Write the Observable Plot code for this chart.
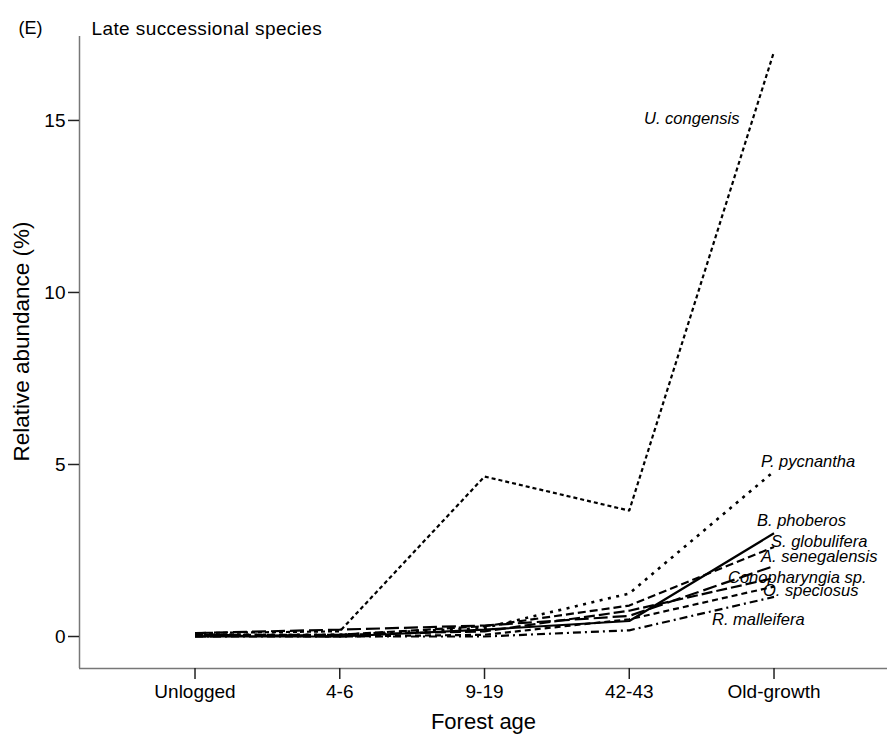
<!DOCTYPE html>
<html>
<head>
<meta charset="utf-8">
<script src="https://cdn.jsdelivr.net/npm/d3@7"></script>
<script src="https://cdn.jsdelivr.net/npm/@observablehq/plot@0.6"></script>
<style>
  html, body { margin: 0; padding: 0; background: #fff; }
  #chart svg { display: block; }
</style>
</head>
<body>
<div id="chart"></div>
<script>
// ---- data ----
const categories = ["Unlogged", "4-6", "9-19", "42-43", "Old-growth"];
const species = ["U. congensis", "P. pycnantha", "B. phoberos", "S. globulifera",
                 "A. senegalensis", "Conopharyngia sp.", "O. speciosus", "R. malleifera"];
const uCongensis     = [0.10, 0.15, 4.65, 3.66, 17.0];
const pPycnantha     = [0.05, 0.05, 0.25, 1.25, 4.80];
const bPhoberos      = [0.00, 0.00, 0.20, 0.45, 3.00];
const sGlobulifera   = [0.05, 0.05, 0.30, 0.90, 2.60];
const aSenegalensis  = [0.10, 0.20, 0.32, 0.60, 2.05];
const conopharyngia  = [0.00, 0.05, 0.15, 0.75, 1.70];
const oSpeciosus     = [0.05, 0.00, 0.05, 0.50, 1.45];
const rMalleifera    = [0.00, 0.00, 0.00, 0.18, 1.15];
const seriesValues = [uCongensis, pPycnantha, bPhoberos, sGlobulifera,
                      aSenegalensis, conopharyngia, oSpeciosus, rMalleifera];
const yTicks = [0, 5, 10, 15];
// label anchor heights (data units) for the species names
const labelValues = [15.06, 5.09, 3.37, 2.76, 2.33, 1.72, 1.34, 0.49];

// ---- styles ----
const dashes = ["4,3", "3,5.5", null, "8,4", "14,5", "11,4", "6,4", "8,4,2,4"];
const widths = [2.2, 2.6, 2.2, 2.2, 2.2, 2.2, 2.2, 2.2];
const labelDx = [-130, -13, -17, -3, -13, -46, -11, -62];

const font = "'Liberation Sans', Arial, Helvetica, sans-serif";
const xIdx = categories.map((_, i) => i);
const yMin = -0.93, yMax = 17.44;

const lineMarks = seriesValues.map((vals, s) =>
  Plot.line(vals.map((v, i) => ({x: i, y: v})), {
    x: "x", y: "y", stroke: "black", strokeWidth: widths[s],
    strokeDasharray: dashes[s] || undefined, strokeLinejoin: "miter", strokeLinecap: "butt"
  })
);

const labelMarks = species.map((name, s) =>
  Plot.text([{x: categories.length - 1, y: labelValues[s], t: name}], {
    x: "x", y: "y", text: "t", textAnchor: "start", dx: labelDx[s],
    fontStyle: "italic", fontSize: 16.5, fill: "black"
  })
);

const chart = Plot.plot({
  width: 887,
  height: 739,
  marginLeft: 79,
  marginRight: 0,
  marginTop: 36,
  marginBottom: 71,
  style: {fontFamily: font, background: "white", color: "black"},
  x: {type: "linear", domain: [-0.798, 4.784], axis: null},
  y: {domain: [yMin, yMax], axis: null},
  marks: [
    Plot.ruleY([yMin], {stroke: "#777", strokeWidth: 1.5}),
    Plot.ruleX([-0.798], {stroke: "#777", strokeWidth: 1.5}),
    Plot.axisX({ticks: xIdx, tickFormat: i => categories[i], tickSize: 11, tickPadding: 5,
                fontSize: 19, label: null, stroke: "#222", strokeWidth: 1.5}),
    Plot.axisY({ticks: yTicks, tickSize: 11, tickPadding: 3, fontSize: 19, label: null,
                stroke: "#222", strokeWidth: 1.5}),
    ...lineMarks,
    ...labelMarks,
    Plot.text(["Forest age"], {frameAnchor: "bottom", textAnchor: "middle", dy: 60, fontSize: 22, fill: "black"}),
    Plot.text(["Relative abundance (%)"], {frameAnchor: "left", textAnchor: "middle", rotate: -90,
                                          dx: -58, dy: -11, fontSize: 22.5, fill: "black"}),
    Plot.text(["(E)"], {frameAnchor: "top-left", dx: -61, dy: -15.5, textAnchor: "start",
                        fontSize: 18, fill: "black"}),
    Plot.text(["Late successional species"], {frameAnchor: "top-left", dx: 12, dy: -15.5,
                        textAnchor: "start", fontSize: 19, fill: "black"})
  ]
});
d3.select(chart).selectAll("text")
  .filter(function() { return this.textContent === "Late successional species"; })
  .style("letter-spacing", "0.4px");
document.getElementById("chart").appendChild(chart);
</script>
</body>
</html>
